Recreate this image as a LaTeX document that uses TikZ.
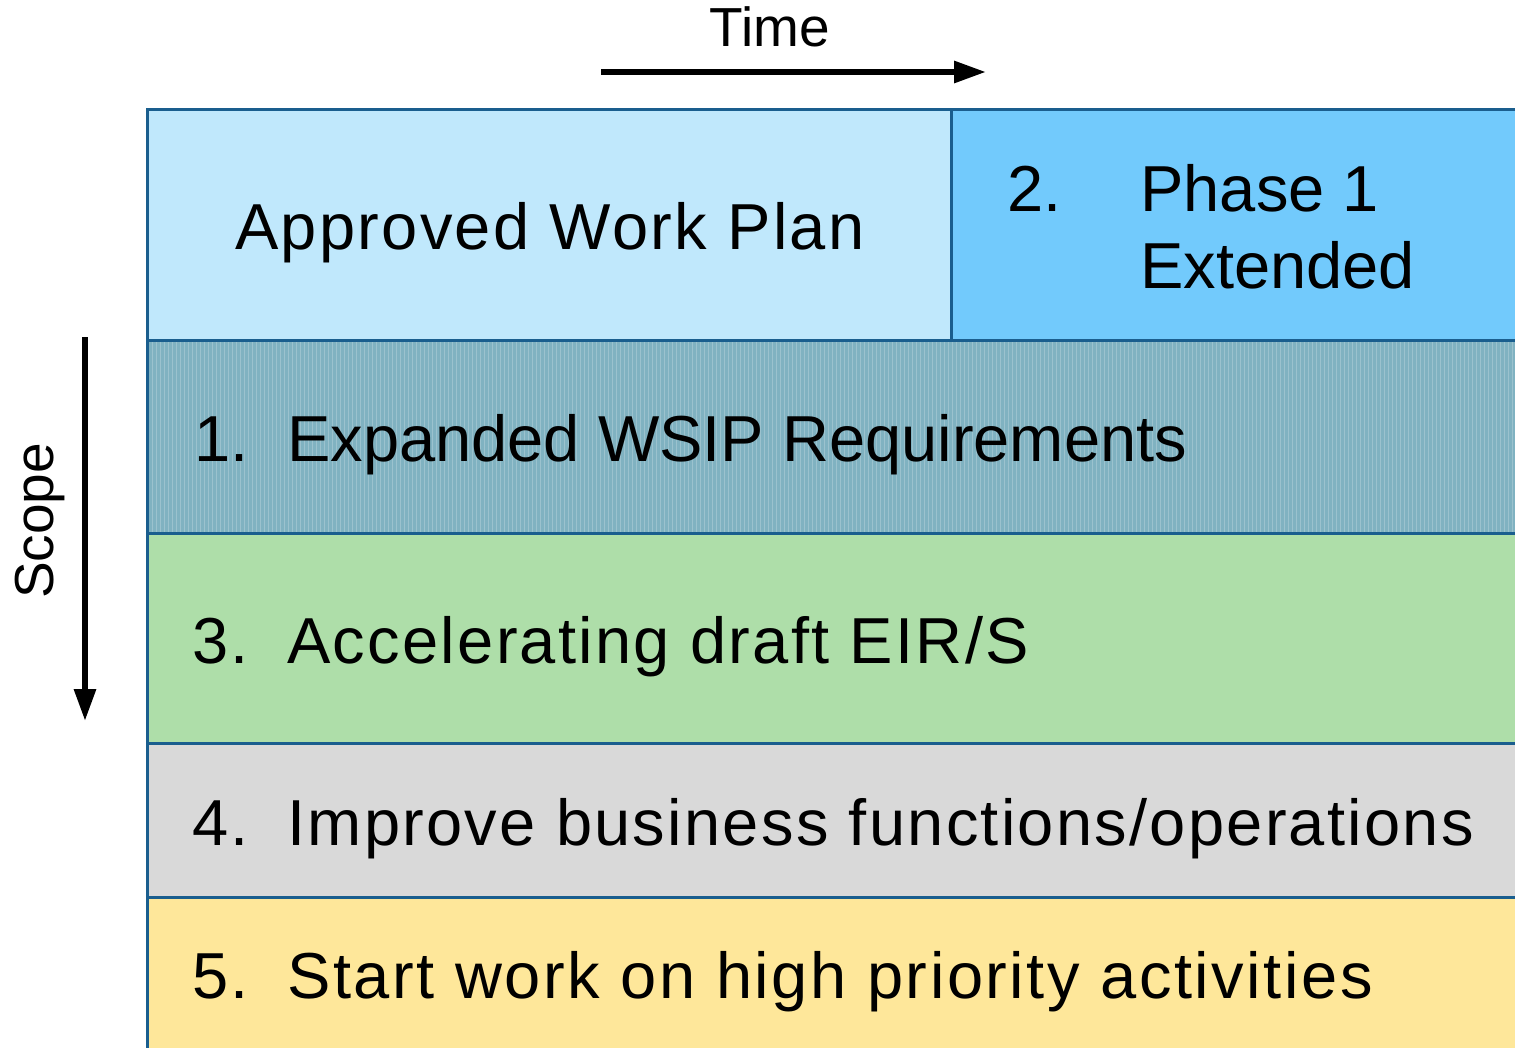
\documentclass[tikz,border=0pt]{standalone}
\usepackage{fontspec}
\setmainfont{Liberation Sans}
\newfontfamily\spaced[LetterSpace=3.5]{Liberation Sans}
\newfontfamily\spacedb[LetterSpace=3.9]{Liberation Sans}
\usetikzlibrary{arrows.meta}
\definecolor{bordc}{HTML}{1A5E8E}
\definecolor{awpc}{HTML}{C0E8FC}
\definecolor{phc}{HTML}{72CAFC}
\definecolor{tealc}{HTML}{80B2C1}
\definecolor{greenc}{HTML}{AEDEA9}
\definecolor{greyc}{HTML}{D9D9D9}
\definecolor{yelc}{HTML}{FEE79A}
\tikzset{
  band/.style={draw=bordc, line width=1.5pt},
  bigtxt/.style={inner sep=0pt, anchor=base west, font=\fontsize{32.5}{38.5}\selectfont},
  bigsp/.style={inner sep=0pt, anchor=base west, font=\fontsize{32.5}{38.5}\selectfont\spaced},
  bigspb/.style={inner sep=0pt, anchor=base west, font=\fontsize{32.5}{38.5}\selectfont\spacedb},
  axislbl/.style={inner sep=0pt, font=\fontsize{27.5}{32}\selectfont},
  axisarrow/.style={line width=3pt, -{Triangle[length=16pt,width=10.5pt]}}
}
\begin{document}
\begin{tikzpicture}[x=0.5pt,y=-0.5pt]
\useasboundingbox (0,0) rectangle (1515,1048);
\begin{scope}
\clip (0,0) rectangle (1515,1048);
% bands
\fill[awpc] (147,110) rectangle (951,340);
\fill[phc] (951,110) rectangle (1530,340);
\fill[tealc] (147,340) rectangle (1530,533);
\draw[white, opacity=0.22, line width=0.35pt, step=4] (148,341) grid (1530,532);
\fill[greenc] (147,533) rectangle (1530,743);
\fill[greyc] (147,743) rectangle (1530,897);
\fill[yelc] (147,897) rectangle (1530,1060);
\draw[band] (147,1060) -- (147,110) -- (1530,110);
\draw[band] (951,110) -- (951,340);
\draw[band] (147,340) -- (1530,340);
\draw[band] (147,533) -- (1530,533);
\draw[band] (147,743) -- (1530,743);
\draw[band] (147,897) -- (1530,897);
\end{scope}
% texts
\node[bigsp] (awp) at (235,250) {Approved Work Plan};
\node[bigtxt] (n2) at (1007,212) {2.};
\node[bigtxt] (ph) at (1140,212) {Phase 1};
\node[bigtxt] (ext) at (1140,289) {Extended};
\node[bigtxt] (n1) at (194,461) {1.};
\node[bigtxt] (wsip) at (287,461) {Expanded WSIP Requirements};
\node[bigsp] (n3) at (192,663) {3.};
\node[bigsp] (acc) at (287,663) {Accelerating draft EIR/S};
\node[bigsp] (n4) at (192,845) {4.};
\node[bigsp] (imp) at (287,845) {Improve business functions/operations};
\node[bigsp] (n5) at (192,998) {5.};
\node[bigspb] (start) at (287,998) {Start work on high priority activities};
% axes
\node[axislbl, anchor=base] (time) at (770,47) {Time};
\coordinate (t0) at (601,72);
\coordinate (t1) at (986,72);
\draw[axisarrow] (t0) -- (t1);
\node[axislbl, anchor=base, rotate=90] (scope) at (53,521) {Scope};
\coordinate (s0) at (85,337);
\coordinate (s1) at (85,721);
\draw[axisarrow] (s0) -- (s1);
\end{tikzpicture}
\end{document}
